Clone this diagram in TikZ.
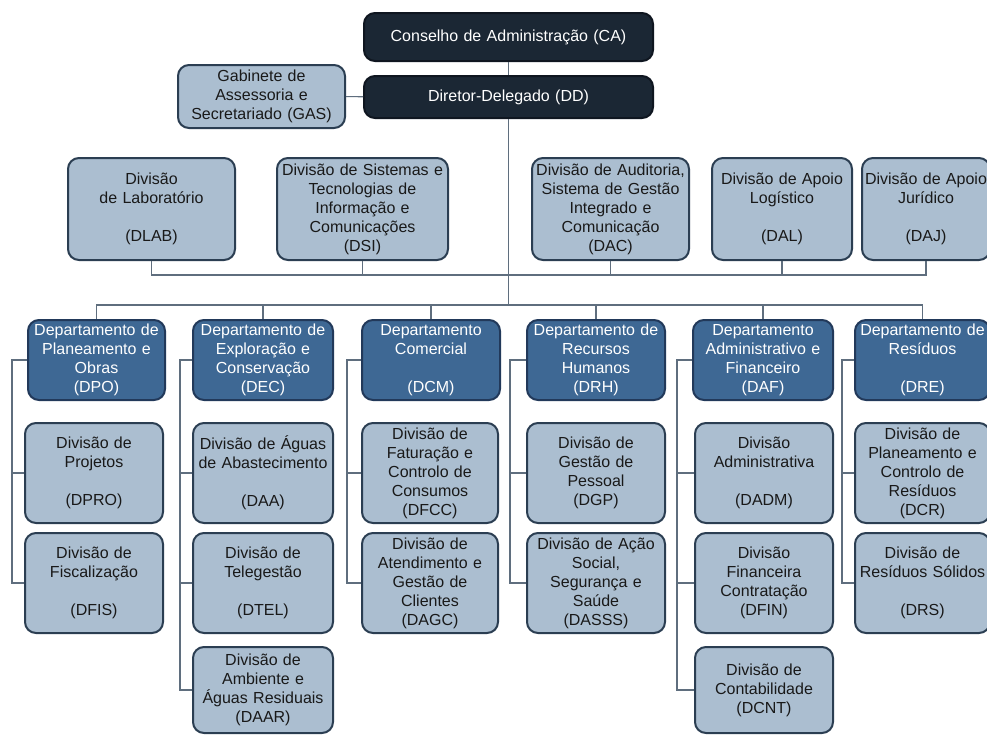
\documentclass[tikz,border=0pt]{standalone}
\usepackage{fontspec}
\setmainfont{Liberation Sans}
\definecolor{topfill}{HTML}{1B2734}
\definecolor{topdraw}{HTML}{0F1620}
\definecolor{deptfill}{HTML}{3E6894}
\definecolor{deptdraw}{HTML}{22395A}
\definecolor{divfill}{HTML}{ABBED0}
\definecolor{divdraw}{HTML}{2B3E52}
\definecolor{conncol}{HTML}{5F6E7E}
\tikzset{
  orgbase/.style={rounded corners=11pt, line width=2pt, align=center, inner sep=0pt,
    font=\fontsize{16}{19}\selectfont},
  topbox/.style={orgbase, fill=topfill, draw=topdraw, text=white},
  deptbox/.style={orgbase, fill=deptfill, draw=deptdraw, text=white},
  divbox/.style={orgbase, fill=divfill, draw=divdraw, text=black!90},
  conn/.style={draw=conncol, line width=1.1pt},
}
\newcommand{\orgbox}[7]{%
  \pgfmathsetmacro\obW{#5-#3}%
  \pgfmathsetmacro\obH{#6-#4}%
  \pgfmathsetmacro\obT{#5-#3-4}%
  \pgfmathsetmacro\obX{(#3+#5)/2}%
  \pgfmathsetmacro\obY{-(#4+#6)/2}%
  \node[#1, minimum width=\obW pt, minimum height=\obH pt, text width=\obT pt] (#2) at (\obX pt,\obY pt) {#7};%
}
\begin{document}
\begin{tikzpicture}
\useasboundingbox[fill=white] (0,0) rectangle (987pt,-734pt);
% top
\orgbox{topbox}{CA}{364}{13}{653}{61}{Conselho de Administração (CA)}
\orgbox{topbox}{DD}{364}{76}{653}{118}{Diretor-Delegado (DD)}
\orgbox{divbox}{GAS}{178}{65}{345}{128}{Gabinete de\\Assessoria e\\Secretariado (GAS)}
% row 2
\orgbox{divbox}{DLAB}{68}{158}{235}{260}{Divisão\\de Laboratório\\~\\(DLAB)}
\orgbox{divbox}{DSI}{277}{158}{448}{260}{Divisão de Sistemas e\\Tecnologias de\\Informação e\\Comunicações\\(DSI)}
\orgbox{divbox}{DAC}{532}{158}{689}{260}{Divisão de Auditoria,\\Sistema de Gestão\\Integrado e\\Comunicação\\(DAC)}
\orgbox{divbox}{DAL}{712}{158}{852}{260}{Divisão de Apoio\\Logístico\\~\\(DAL)}
\orgbox{divbox}{DAJ}{862}{158}{990}{260}{Divisão de Apoio\\Jurídico\\~\\(DAJ)}
% departments
\orgbox{deptbox}{DPO}{28}{320}{165}{400}{Departamento de\\Planeamento e\\Obras\\(DPO)}
\orgbox{deptbox}{DEC}{193}{320}{333}{400}{Departamento de\\Exploração e\\Conservação\\(DEC)}
\orgbox{deptbox}{DCM}{362}{320}{500}{400}{Departamento\\Comercial\\~\\(DCM)}
\orgbox{deptbox}{DRH}{527}{320}{665}{400}{Departamento de\\Recursos\\Humanos\\(DRH)}
\orgbox{deptbox}{DAF}{693}{320}{833}{400}{Departamento\\Administrativo e\\Financeiro\\(DAF)}
\orgbox{deptbox}{DRE}{855}{320}{990}{400}{Departamento de\\Resíduos\\~\\(DRE)}
% children row 1
\orgbox{divbox}{DPRO}{25}{423}{163}{523}{Divisão de\\Projetos\\~\\(DPRO)}
\orgbox{divbox}{DAA}{193}{423}{333}{523}{Divisão de Águas\\de Abastecimento\\~\\(DAA)}
\orgbox{divbox}{DFCC}{362}{423}{498}{523}{Divisão de\\Faturação e\\Controlo de\\Consumos\\(DFCC)}
\orgbox{divbox}{DGP}{527}{423}{665}{523}{Divisão de\\Gestão de\\Pessoal\\(DGP)}
\orgbox{divbox}{DADM}{695}{423}{833}{523}{Divisão\\Administrativa\\~\\(DADM)}
\orgbox{divbox}{DCR}{855}{423}{990}{523}{Divisão de\\Planeamento e\\Controlo de\\Resíduos\\(DCR)}
% children row 2
\orgbox{divbox}{DFIS}{25}{533}{163}{633}{Divisão de\\Fiscalização\\~\\(DFIS)}
\orgbox{divbox}{DTEL}{193}{533}{333}{633}{Divisão de\\Telegestão\\~\\(DTEL)}
\orgbox{divbox}{DAGC}{362}{533}{498}{633}{Divisão de\\Atendimento e\\Gestão de\\Clientes\\(DAGC)}
\orgbox{divbox}{DASSS}{527}{533}{665}{633}{Divisão de Ação\\Social,\\Segurança e\\Saúde\\(DASSS)}
\orgbox{divbox}{DFIN}{695}{533}{833}{633}{Divisão\\Financeira\\Contratação\\(DFIN)}
\orgbox{divbox}{DRS}{855}{533}{990}{633}{Divisão de\\Resíduos Sólidos\\~\\(DRS)}
% children row 3
\orgbox{divbox}{DAAR}{193}{647}{333}{733}{Divisão de\\Ambiente e\\Águas Residuais\\(DAAR)}
\orgbox{divbox}{DCNT}{695}{647}{833}{733}{Divisão de\\Contabilidade\\(DCNT)}
% helper coordinates
\coordinate (r2) at (0,-275pt);
\coordinate (r3) at (0,-305pt);
\coordinate (cPO) at (12pt,0);
\coordinate (cEC) at (180pt,0);
\coordinate (cCM) at (347pt,0);
\coordinate (cRH) at (510pt,0);
\coordinate (cAF) at (677pt,0);
\coordinate (cRE) at (842pt,0);
% connectors
\begin{scope}[on background layer/.style={}]
\draw[conn] (CA) -- (DD);
\draw[conn] (GAS) -- (DD);
\draw[conn] (DD.south) -- (DD.south |- r3);
\draw[conn] (DLAB.south) -- (DLAB.south |- r2) -- (DAJ.south |- r2) -- (DAJ.south);
\foreach \n in {DSI,DAC,DAL} \draw[conn] (\n.south) -- (\n.south |- r2);
\draw[conn] (DPO.north) -- (DPO.north |- r3) -- (DRE.north |- r3) -- (DRE.north);
\foreach \n in {DEC,DCM,DRH,DAF} \draw[conn] (\n.north) -- (\n.north |- r3);
% columns
\draw[conn] (DPO.west) -- (DPO.west -| cPO) -- (DFIS.west -| cPO) -- (DFIS.west);
\draw[conn] (DPRO.west) -- (DPRO.west -| cPO);
\draw[conn] (DEC.west) -- (DEC.west -| cEC) -- (DAAR.west -| cEC) -- (DAAR.west);
\draw[conn] (DAA.west) -- (DAA.west -| cEC);
\draw[conn] (DTEL.west) -- (DTEL.west -| cEC);
\draw[conn] (DCM.west) -- (DCM.west -| cCM) -- (DAGC.west -| cCM) -- (DAGC.west);
\draw[conn] (DFCC.west) -- (DFCC.west -| cCM);
\draw[conn] (DRH.west) -- (DRH.west -| cRH) -- (DASSS.west -| cRH) -- (DASSS.west);
\draw[conn] (DGP.west) -- (DGP.west -| cRH);
\draw[conn] (DAF.west) -- (DAF.west -| cAF) -- (DCNT.west -| cAF) -- (DCNT.west);
\draw[conn] (DADM.west) -- (DADM.west -| cAF);
\draw[conn] (DFIN.west) -- (DFIN.west -| cAF);
\draw[conn] (DRE.west) -- (DRE.west -| cRE) -- (DRS.west -| cRE) -- (DRS.west);
\draw[conn] (DCR.west) -- (DCR.west -| cRE);
\end{scope}
\end{tikzpicture}
\end{document}
